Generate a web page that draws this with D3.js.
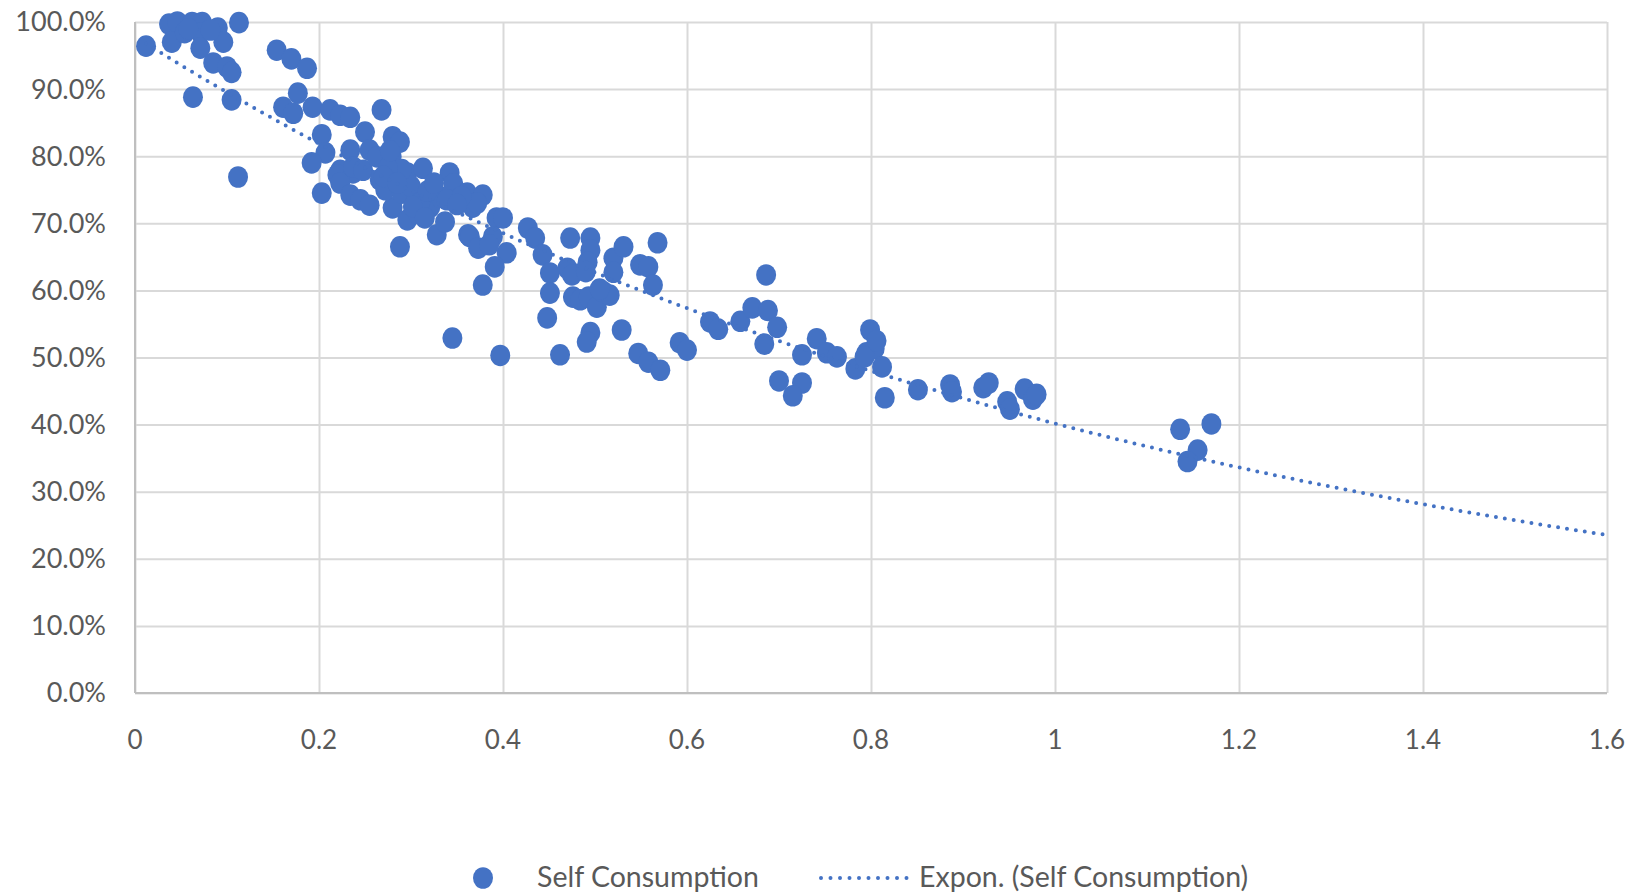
<!DOCTYPE html>
<html>
<head>
<meta charset="utf-8">
<script src="https://cdn.jsdelivr.net/npm/d3@7"></script>
<style>
  body { margin: 0; background: #fff; }
  text { font-family: Lato, "Open Sans", sans-serif; fill: #595959; }
</style>
</head>
<body>
<svg id="chart" width="1629" height="895"></svg>
<script>
// ratio of generation to load (x) vs self consumption share (y)
var xValues = [
  0.012, 0.037, 0.046, 0.062, 0.073, 0.040, 0.054, 0.071, 0.071, 0.090, 0.096, 0.085, 0.100, 0.105, 0.063, 0.105, 0.113, 0.112, 0.082, 0.058,
  0.154, 0.170, 0.187, 0.177, 0.161, 0.172, 0.193, 0.212, 0.223, 0.234, 0.268, 0.203, 0.207, 0.192, 0.234, 0.250, 0.255, 0.223, 0.237, 0.203,
  0.220, 0.223, 0.237, 0.248, 0.234, 0.245, 0.255,
  0.280, 0.288, 0.279, 0.263, 0.266, 0.280, 0.296, 0.313, 0.342, 0.346, 0.280, 0.296, 0.307, 0.321, 0.332, 0.339, 0.328, 0.288, 0.272, 0.290,
  0.300, 0.310, 0.318, 0.325, 0.290, 0.275, 0.302, 0.315, 0.337, 0.270, 0.277, 0.285,
  0.361, 0.367, 0.378, 0.372, 0.362, 0.393, 0.364, 0.373, 0.389, 0.404, 0.391, 0.378, 0.345, 0.397, 0.400, 0.385, 0.355, 0.350,
  0.427, 0.435, 0.443, 0.451, 0.451, 0.448, 0.473, 0.470, 0.475, 0.476, 0.484, 0.495, 0.495, 0.492, 0.490, 0.493, 0.502, 0.509, 0.516, 0.520,
  0.520, 0.531, 0.549, 0.558, 0.563, 0.568, 0.529, 0.495, 0.491, 0.462, 0.547, 0.558, 0.571, 0.592, 0.600, 0.505,
  0.625, 0.634, 0.658, 0.671, 0.688, 0.686, 0.698, 0.684, 0.700, 0.725, 0.715, 0.725, 0.741, 0.752, 0.763, 0.783, 0.799, 0.795, 0.804, 0.793,
  0.812, 0.815, 0.806,
  0.851, 0.886, 0.888, 0.922, 0.928, 0.948, 0.951, 0.967, 0.976, 0.980,
  1.136, 1.155, 1.144, 1.170
];
var yValues = [
  96.4, 99.7, 100.0, 99.9, 99.9, 97.0, 98.4, 98.4, 96.1, 99.1, 97.0, 93.9, 93.3, 92.5, 88.8, 88.4, 99.9, 76.9, 98.8, 99.0,
  95.8, 94.5, 93.1, 89.4, 87.3, 86.4, 87.3, 86.9, 86.1, 85.8, 86.9, 83.2, 80.5, 79.0, 80.9, 83.6, 80.9, 77.9, 77.5, 74.5,
  77.2, 76.0, 78.4, 77.9, 74.2, 73.5, 72.7,
  82.9, 82.1, 79.9, 79.9, 76.5, 76.5, 77.5, 78.2, 77.5, 75.9, 72.3, 70.5, 71.5, 72.4, 73.9, 73.5, 68.3, 66.5, 75.0, 74.5,
  75.5, 73.0, 74.8, 76.0, 78.0, 78.2, 72.5, 70.8, 70.2, 77.0, 80.8, 76.0,
  74.5, 72.4, 74.2, 73.0, 68.3, 70.8, 68.0, 66.3, 68.0, 65.6, 63.5, 60.8, 52.9, 50.3, 70.8, 66.8, 74.0, 72.8,
  69.3, 67.8, 65.3, 62.6, 59.6, 55.9, 67.8, 63.3, 62.3, 59.0, 58.6, 67.8, 66.0, 64.2, 62.8, 59.0, 57.5, 59.8, 59.3, 64.8,
  62.7, 66.5, 63.8, 63.5, 60.8, 67.1, 54.1, 53.7, 52.3, 50.4, 50.6, 49.3, 48.1, 52.2, 51.1, 60.2,
  55.3, 54.2, 55.4, 57.4, 57.0, 62.3, 54.5, 52.0, 46.5, 46.2, 44.3, 50.4, 52.8, 50.7, 50.1, 48.3, 54.1, 50.7, 51.3, 50.1,
  48.6, 44.0, 52.5,
  45.2, 45.9, 44.9, 45.5, 46.2, 43.4, 42.3, 45.3, 43.8, 44.5,
  39.3, 36.2, 34.5, 40.1
];
var xTicks = [0, 0.2, 0.4, 0.6, 0.8, 1, 1.2, 1.4, 1.6];
var yTicks = [0, 0.1, 0.2, 0.3, 0.4, 0.5, 0.6, 0.7, 0.8, 0.9, 1];
var seriesName = "Self Consumption";
var trendName = "Expon. (Self Consumption)";

var blue = "#4472C4";
var points = xValues.map((x, i) => ({x: x, y: yValues[i] / 100}));

var svg = d3.select("#chart");
var plotLeft = 135, plotRight = 1607, plotTop = 22, plotBottom = 693;

var x = d3.scaleLinear().domain([0, 1.6]).range([plotLeft, plotRight]);
var y = d3.scaleLinear().domain([0, 1]).range([plotBottom, plotTop]);

// gridlines
svg.append("g")
    .attr("transform", `translate(0,${plotBottom})`)
    .call(d3.axisBottom(x).tickValues(xTicks).tickSize(-(plotBottom - plotTop)).tickFormat(""))
    .call(g => g.select(".domain").remove())
    .selectAll("line").attr("stroke", "#d9d9d9").attr("stroke-width", 2);
svg.append("g")
    .attr("transform", `translate(${plotLeft},0)`)
    .call(d3.axisLeft(y).tickValues(yTicks).tickSize(-(plotRight - plotLeft)).tickFormat(""))
    .call(g => g.select(".domain").remove())
    .selectAll("line").attr("stroke", "#d9d9d9").attr("stroke-width", 2);

// axis lines
svg.append("line").attr("x1", plotLeft).attr("x2", plotLeft).attr("y1", plotTop).attr("y2", plotBottom)
    .attr("stroke", "#bfbfbf").attr("stroke-width", 2);
svg.append("line").attr("x1", plotLeft).attr("x2", plotRight).attr("y1", plotBottom).attr("y2", plotBottom)
    .attr("stroke", "#bfbfbf").attr("stroke-width", 2);

// tick labels
svg.append("g").selectAll("text")
    .data(yTicks).enter().append("text")
    .attr("x", 106)
    .attr("y", d => y(d))
    .attr("dy", "0.35em")
    .attr("text-anchor", "end")
    .style("font-size", "27px")
    .text(d => d3.format(".1%")(d));
svg.append("g").selectAll("text")
    .data(xTicks).enter().append("text")
    .attr("x", d => x(d))
    .attr("y", 749)
    .attr("text-anchor", "middle")
    .style("font-size", "26px")
    .text(d => d3.format("~g")(d));

// exponential trendline, least squares on ln(y) like Excel does
var n = points.length;
var sx = d3.sum(points, p => p.x), sl = d3.sum(points, p => Math.log(p.y));
var sxx = d3.sum(points, p => p.x * p.x), sxl = d3.sum(points, p => p.x * Math.log(p.y));
var b = (n * sxl - sx * sl) / (n * sxx - sx * sx);
var a = Math.exp((sl - b * sx) / n);
var x0 = d3.min(xValues);
var trend = d3.range(0, 201).map(i => {
    var xv = x0 + (1.6 - x0) * i / 200;
    return [xv, a * Math.exp(b * xv)];
});

// points
svg.append("g").selectAll("ellipse")
    .data(points).enter().append("ellipse")
    .attr("cx", d => x(d.x))
    .attr("cy", d => y(d.y))
    .attr("rx", 10)
    .attr("ry", 10.8)
    .attr("fill", blue);

svg.append("path")
    .datum(trend)
    .attr("d", d3.line().x(d => x(d[0])).y(d => y(d[1])))
    .attr("fill", "none")
    .attr("stroke", blue)
    .attr("stroke-width", 4)
    .attr("stroke-linecap", "round")
    .attr("stroke-dasharray", "0 9");

// legend
var leg = svg.append("g");
leg.append("ellipse").attr("cx", 483).attr("cy", 878).attr("rx", 10).attr("ry", 10.8).attr("fill", blue);
leg.append("text").attr("x", 537).attr("y", 887).style("font-size", "28.5px").text(seriesName);
leg.append("line").attr("x1", 821).attr("x2", 907).attr("y1", 878).attr("y2", 878)
    .attr("stroke", blue).attr("stroke-width", 4)
    .attr("stroke-linecap", "round").attr("stroke-dasharray", "0 9.5");
leg.append("text").attr("x", 919).attr("y", 887).style("font-size", "28.5px").text(trendName);
</script>
</body>
</html>
